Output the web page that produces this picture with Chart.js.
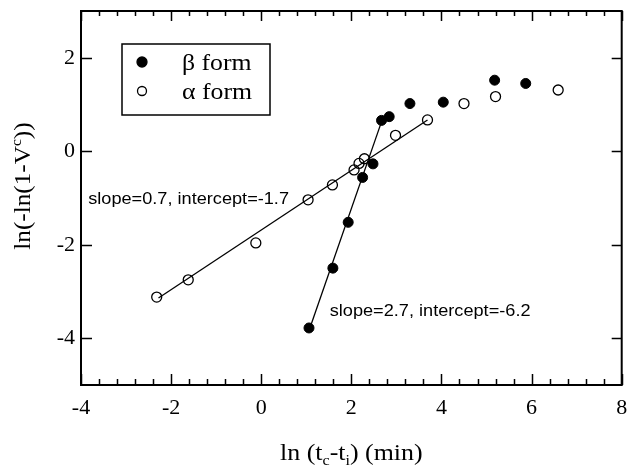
<!DOCTYPE html>
<html>
<head>
<meta charset="utf-8">
<script src="https://cdn.jsdelivr.net/npm/chart.js@4"></script>
<style>
  body { margin: 0; background: #fff; }
  #wrap { width: 628px; height: 468px; }
</style>
</head>
<body>
<div id="wrap"><canvas id="myChart" width="628" height="468"></canvas></div>
<script>
// data

const betaX = [1.06, 1.59, 1.93, 2.25, 2.48, 2.67, 2.84, 3.30, 4.04, 5.18, 5.87];
const betaY = [-3.78, -2.50, -1.52, -0.56, -0.27, 0.66, 0.74, 1.02, 1.05, 1.52, 1.45];
const alphaX = [-2.32, -1.62, -0.12, 1.04, 1.58, 2.06, 2.17, 2.29, 2.98, 3.69, 4.50, 5.20, 6.59];
const alphaY = [-3.12, -2.75, -1.96, -1.04, -0.72, -0.40, -0.26, -0.16, 0.34, 0.67, 1.02, 1.17, 1.31];

// fitted lines (end points)
const betaFitX = [1.08, 2.68];
const betaFitY = [-3.78, 0.66];
const alphaFitX = [-2.28, 3.69];
const alphaFitY = [-3.14, 0.67];

const xTicks = [-4, -2, 0, 2, 4, 6, 8];
const yTicks = [-4, -2, 0, 2];
const xMinorStep = 0.4;

const legendLabels = ['\u03b2 form', '\u03b1 form'];
const notes = [
  { text: 'slope=0.7, intercept=-1.7', x: -3.84, y: -1.0 },
  { text: 'slope=2.7, intercept=-6.2', x: 1.52, y: -3.4 },
];

const toPts = (xs, ys) => xs.map((x, i) => ({ x: x, y: ys[i] }));

const data = {
  datasets: [
    {
      label: legendLabels[0],
      data: toPts(betaX, betaY),
      pointRadius: 5,
      pointBackgroundColor: '#000',
      pointBorderColor: '#000',
      pointBorderWidth: 1,
    },
    {
      label: legendLabels[1],
      data: toPts(alphaX, alphaY),
      pointRadius: 5,
      pointBackgroundColor: 'rgba(0,0,0,0)',
      pointBorderColor: '#000',
      pointBorderWidth: 1.3,
    },
    {
      label: 'beta fit',
      data: toPts(betaFitX, betaFitY),
      showLine: true,
      pointRadius: 0,
      borderColor: '#000',
      borderWidth: 1.3,
    },
    {
      label: 'alpha fit',
      data: toPts(alphaFitX, alphaFitY),
      showLine: true,
      pointRadius: 0,
      borderColor: '#000',
      borderWidth: 1.3,
    },
  ]
};

// text helper: segments with optional sub / sup, stretched a bit horizontally
function richWidth(ctx, segs, size, family) {
  let w = 0;
  segs.forEach(s => {
    const sz = s.sub || s.sup ? size * 0.62 : size;
    ctx.font = sz + 'px ' + family;
    w += ctx.measureText(s.t).width;
  });
  return w;
}
function drawRich(ctx, segs, x, y, size, family, stretch) {
  ctx.save();
  ctx.translate(x, y);
  ctx.scale(stretch, 1);
  ctx.textBaseline = 'alphabetic';
  ctx.textAlign = 'left';
  ctx.fillStyle = '#000';
  let cx = 0;
  segs.forEach(s => {
    const sz = s.sub || s.sup ? size * 0.62 : size;
    ctx.font = sz + 'px ' + family;
    const dy = s.sub ? size * 0.22 : (s.sup ? -size * 0.38 : 0);
    ctx.fillText(s.t, cx, dy);
    cx += ctx.measureText(s.t).width;
  });
  ctx.restore();
}

const serif = "'Liberation Serif', serif";
const sans = "'Liberation Sans', Arial, sans-serif";

// tick labels use the serif face
Chart.defaults.font.family = serif;
Chart.defaults.font.size = 22;
Chart.defaults.color = '#000';

const framePlugin = {
  id: 'frame',
  afterDraw(chart) {
    const ctx = chart.ctx;
    const a = chart.chartArea;
    const xs = chart.scales.x;
    const ys = chart.scales.y;
    ctx.save();
    ctx.strokeStyle = '#000';

    // box
    ctx.lineWidth = 2;
    ctx.strokeRect(a.left, a.top, a.right - a.left, a.bottom - a.top);

    // inward ticks
    ctx.lineWidth = 1.5;
    ctx.beginPath();
    for (let v = xs.min; v <= xs.max + 1e-6; v += xMinorStep) {
      const px = Math.round(xs.getPixelForValue(v)) + 0.5;
      const major = xTicks.some(t => Math.abs(t - v) < 1e-6);
      const len = major ? 11 : 6;
      ctx.moveTo(px, a.bottom); ctx.lineTo(px, a.bottom - len);
      ctx.moveTo(px, a.top); ctx.lineTo(px, a.top + (major ? 10 : 5));
    }
    yTicks.forEach(v => {
      const py = Math.round(ys.getPixelForValue(v)) + 0.5;
      ctx.moveTo(a.left, py); ctx.lineTo(a.left + 11, py);
      ctx.moveTo(a.right, py); ctx.lineTo(a.right - 10, py);
    });
    ctx.stroke();

    // legend box
    const lx = 122, ly = 44, lw = 148, lh = 71;
    ctx.lineWidth = 1.5;
    ctx.strokeRect(lx, ly, lw, lh);
    const rows = [62, 91];
    rows.forEach((ry, i) => {
      ctx.beginPath();
      ctx.arc(142, ry, i === 0 ? 5 : 4.5, 0, Math.PI * 2);
      if (i === 0) { ctx.fillStyle = '#000'; ctx.fill(); }
      ctx.lineWidth = 1.3;
      ctx.stroke();
      drawRich(ctx, [{ t: legendLabels[i] }], 182, ry + 8, 23, serif, 1.12);
    });

    // fit notes
    notes.forEach(n => {
      const px = xs.getPixelForValue(n.x);
      const py = ys.getPixelForValue(n.y);
      drawRich(ctx, [{ t: n.text }], px, py + 6, 16.5, sans, 1.1);
    });

    // axis titles
    const xt = [{ t: 'ln (t' }, { t: 'c', sub: true }, { t: '-t' }, { t: 'i', sub: true }, { t: ') (min)' }];
    const xw = richWidth(ctx, xt, 24, serif) * 1.08;
    drawRich(ctx, xt, (a.left + a.right) / 2 - xw / 2, 460, 24, serif, 1.08);

    const yt = [{ t: 'ln(-ln(1-V' }, { t: 'c', sup: true }, { t: '))' }];
    const yw = richWidth(ctx, yt, 24, serif) * 1.05;
    ctx.save();
    ctx.translate(30, (a.top + a.bottom) / 2 + yw / 2 - 12);
    ctx.rotate(-Math.PI / 2);
    drawRich(ctx, yt, 0, 0, 24, serif, 1.05);
    ctx.restore();

    ctx.restore();
  }
};

const config = {
  type: 'scatter',
  data: data,
  options: {
    responsive: false,
    animation: false,
    layout: { padding: { top: 11, right: 6, left: 0, bottom: 0 } },
    plugins: {
      legend: { display: false },
      tooltip: { enabled: false },
    },
    scales: {
      x: {
        type: 'linear',
        min: -4,
        max: 8,
        afterBuildTicks: (scale) => { scale.ticks = xTicks.map(v => ({ value: v })); },
        afterFit: (scale) => {
          scale.height = 83;
          scale.paddingLeft = 0;
          scale.paddingRight = 0;
        },
        grid: { display: false, drawTicks: false },
        border: { display: false },
        ticks: {
          padding: 10,
          color: '#000',
          maxRotation: 0,
          font: { family: serif, size: 22 },
        },
      },
      y: {
        type: 'linear',
        min: -5,
        max: 3,
        afterBuildTicks: (scale) => { scale.ticks = yTicks.map(v => ({ value: v })); },
        afterFit: (scale) => {
          scale.width = 81;
          scale.paddingTop = 0;
          scale.paddingBottom = 0;
        },
        grid: { display: false, drawTicks: false },
        border: { display: false },
        ticks: {
          padding: 6,
          color: '#000',
          font: { family: serif, size: 22 },
        },
      },
    }
  },
  plugins: [framePlugin],
};

var myChart = new Chart(
  document.getElementById('myChart'),
  config
);
</script>
</body>
</html>
